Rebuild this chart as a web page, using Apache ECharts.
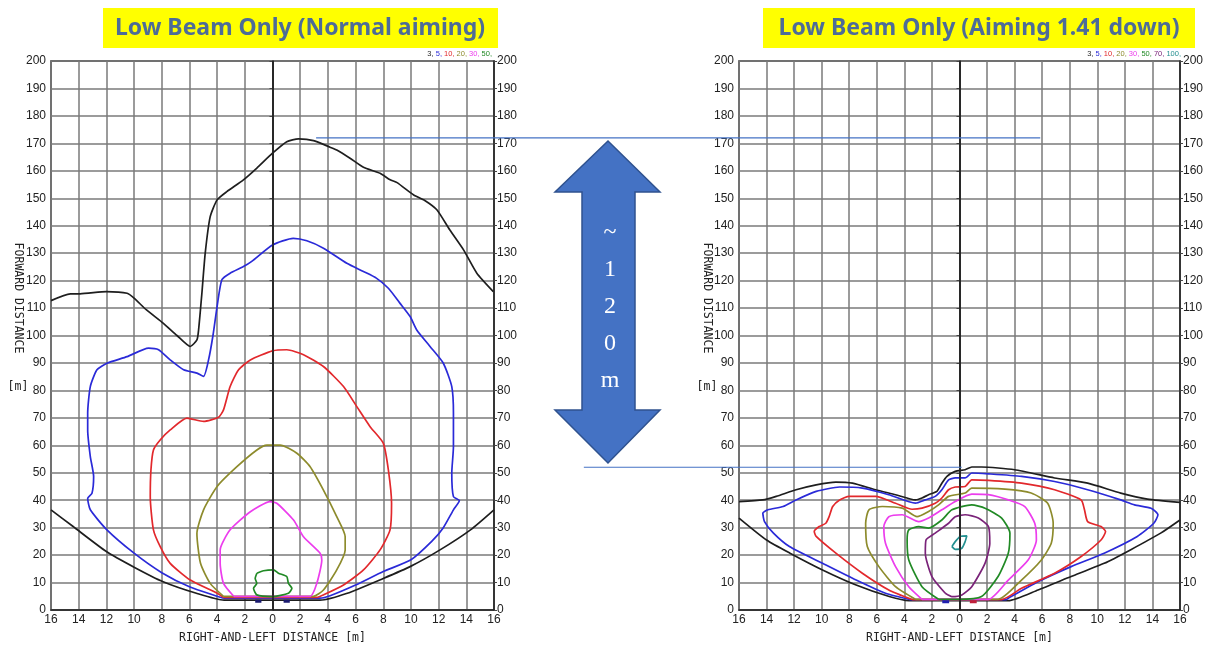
<!DOCTYPE html>
<html><head><meta charset="utf-8">
<script src="https://cdn.jsdelivr.net/npm/echarts@6/dist/echarts.min.js"></script>
<style>html,body{margin:0;padding:0;background:#fff}#c{width:1206px;height:649px}</style>
</head><body><div id="c"></div>
<script>
// ---- Axis ticks ----
const xMin = -16, xMax = 16, xStep = 2;
const yMin = 0, yMax = 200, yStep = 10;

// ---- Titles / labels ----
const titleLeft = 'Low Beam Only (Normal aiming)';
const titleRight = 'Low Beam Only (Aiming 1.41 down)';
const legendLeft = ['3', '5', '10', '20', '30', '50'];
const legendRight = ['3', '5', '10', '20', '30', '50', '70', '100'];
const xName = 'RIGHT-AND-LEFT DISTANCE [m]';
const yName = 'FORWARD DISTANCE';
const arrowLabel = '~\n1\n2\n0\nm';

// ---- Normal aiming contours (x [m], forward distance [m]) ----
const n3Upper = [[-16,112.7],[-14.6,115.2],[-13.9,115.2],[-12,116],[-10.5,115.4],[-10,113.6],[-9.1,109.3],[-7.9,104.5],[-6.9,100],[-5.94,96],[-5.46,98.4],[-5.34,102],[-5.1,115.4],[-4.86,130],[-4.5,143.3],[-4,149.4],[-3.3,152.4],[-2.1,156.7],[-1.13,161],[0,166.4],[1.03,170.6],[1.88,171.6],[2.96,171],[4.16,168.6],[4.64,167.6],[5.6,164.6],[6.57,161.3],[7.77,159.1],[8.5,156.7],[9,155.7],[10.2,151.2],[11,149.2],[11.87,145.8],[12.8,138.5],[13.8,131.2],[14.76,122.7],[15.95,116]];
const n3Lower = [[-16,36.5],[-14.4,30.4],[-12,21.3],[-10,15.6],[-7.9,10.3],[-5.5,6.1],[-3.5,3.6],[3.44,3.6],[5.4,6.1],[8,11.5],[9.94,15.8],[12.1,21.9],[14.3,29.2],[16,36.5]];
const n5 = [[-3.54,4.3],[-6,8.5],[-8,13.6],[-10,20.7],[-11.96,29.2],[-13.16,36.5],[-13.35,40.7],[-13.04,42.5],[-12.92,48.6],[-13.16,55.9],[-13.35,65.6],[-13.35,71.7],[-13.16,81.4],[-12.68,87.5],[-11.96,89.9],[-10.5,92.3],[-8.95,95.4],[-8.23,94.8],[-7.39,91.1],[-6.42,87.5],[-5.46,86.3],[-4.98,85.1],[-4.62,91.1],[-4.3,100],[-4.0,110.6],[-3.66,120.3],[-3.06,122.7],[-2.1,125.1],[-1.5,127],[0,133],[1.5,135.4],[2.48,134.5],[3.68,131.8],[5.37,126.3],[6.57,123.3],[7.5,120.9],[8.37,117.2],[9.2,111.8],[9.94,106.9],[10.42,102],[11.38,96],[12.34,89.9],[12.95,81.4],[13.07,71.7],[13.07,59.5],[12.95,49.8],[13.07,41.3],[13.5,39.9],[13.07,36.5],[12.34,30],[11.5,25],[10,18.3],[8,14],[6,9.1],[4.16,5.2],[3.44,4.3],[-3.54,4.3]];
const n10 = [[-3.54,4.6],[-4,6.1],[-5.94,10.9],[-7.39,17],[-8.1,23],[-8.6,29.2],[-8.83,41.3],[-8.78,51],[-8.6,58.3],[-8.1,62],[-7.39,65.6],[-6.18,69.9],[-4.98,68.7],[-3.9,70.2],[-3.54,72.9],[-3.06,81.4],[-2.45,87.5],[-1.6,91.1],[0,94.4],[1.03,94.8],[2.24,93],[3.68,88.7],[5.13,81.4],[6.09,74.1],[7.05,66.8],[8,60.8],[8.37,51],[8.6,38.9],[8.49,29.2],[7.77,21.9],[6.57,14.6],[5.13,9.1],[3.68,5.5],[3.2,4.6],[-3.54,4.6]];
const n20 = [[-3.54,5],[-4.5,9.7],[-5.2,17],[-5.46,27.9],[-4.98,36.5],[-4,45],[-2.57,52.2],[-1.13,58.3],[-0.41,60.1],[0.55,60.1],[1.76,57.1],[2.72,52.2],[3.68,43.7],[4.64,34],[5.25,26.7],[5.25,21.9],[4.64,14.6],[3.68,7.3],[2.96,5],[-3.54,5]];
const n30 = [[-2.8,5],[-3.54,9.7],[-3.78,17],[-3.78,21.9],[-3.06,29.2],[-1.6,35.8],[-0.17,39.5],[0.31,38.9],[1.52,32.8],[2.24,26.7],[3.44,20.7],[3.56,18.2],[3.2,9.7],[2.72,5],[-2.8,5]];
const n50 = [[-1.13,13.4],[-0.65,14.3],[0.07,14.6],[0.43,13.4],[1.03,12.2],[1.15,9.7],[1.4,7.9],[1.15,6.1],[0,4.9],[-1.13,5.5],[-1.37,7.9],[-1.13,9.7],[-1.25,11.5],[-1.13,13.4]];
const nBlobs = [[-1.25,3.2],[-0.8,3.2],null,[0.8,3.2],[1.25,3.2]];

// ---- Aiming 1.41 down contours ----
const d3Upper = [[-16,39.5],[-14.27,40.1],[-13.3,41.4],[-11.86,43.8],[-10.4,45.6],[-8.97,46.6],[-7.77,46.2],[-6.09,43.8],[-4.64,42],[-3.2,40.1],[-2.72,40.8],[-2.24,42],[-1.64,43.2],[-1.28,46.2],[-0.91,48.7],[-0.31,50.5],[0.41,51.1],[0.89,52.1],[1.6,52.1],[4,51.1],[6.9,48.1],[9.3,46.2],[11.7,42.6],[13.64,40.4],[16,39.2]];
const d3Lower = [[-16,33.5],[-14,25.5],[-12.3,20.7],[-9.94,14.6],[-7.5,9.1],[-5.1,4.9],[-3.68,3.4],[3.54,3.4],[5.7,7.3],[8.1,12.2],[10.5,17],[12.4,21.9],[14.6,28],[16,32.8]];
const d5 = [[-3.56,3.8],[-5.37,6.1],[-7.5,10.9],[-9.94,17],[-12.34,23.1],[-13.5,28],[-14.15,32.2],[-14.27,35.3],[-13.9,36.5],[-12.8,37.7],[-11.86,40.1],[-10.4,43.2],[-8.7,44.8],[-7.05,44.4],[-5.13,42],[-3.2,38.9],[-2.48,40.1],[-1.76,41.4],[-1.28,43.8],[-0.79,47.4],[-0.31,48.1],[0.41,48.1],[0.89,49.9],[2.1,49.6],[4.5,48.7],[6.9,46.8],[9.3,43.8],[11.7,40.1],[12.7,38.3],[13.9,37.1],[14.4,34.7],[14.1,31.6],[12.9,26.8],[10.5,20.7],[8.1,15.8],[5.7,10.3],[3.54,4.3],[3.4,3.8],[-3.56,3.8]];
const d10 = [[-3.44,3.8],[-5.13,7.3],[-7.05,13.4],[-8.97,20.7],[-10.4,26.8],[-10.54,28.6],[-10.18,30.4],[-9.7,31.6],[-9.46,34],[-9.2,37.7],[-8.7,40.1],[-8,41.4],[-6.09,41.4],[-4.64,38.9],[-3.44,36.7],[-2.72,37.1],[-1.76,38.9],[-1.28,40.8],[-0.79,43.8],[-0.31,44.8],[0.41,45],[0.89,47.4],[2.1,47.2],[4.5,46.2],[6.9,43.8],[8.83,40.1],[9.07,36.5],[9.3,32.2],[10.27,30.4],[10.6,28.6],[10.27,25.5],[8.83,19.5],[6.9,13.4],[4.5,7.9],[3.06,3.8],[-3.44,3.8]];
const d20 = [[-3.2,3.9],[-4.64,8.5],[-5.85,15.8],[-6.69,23.1],[-6.81,31.6],[-6.57,36.5],[-5.6,37.7],[-4.16,37.1],[-3.08,34],[-2.24,35.9],[-1.52,38.3],[-0.79,41.4],[0.41,42.6],[0.89,44.4],[3.3,44],[5.2,42.6],[6.4,38.9],[6.8,31.6],[6.66,24.3],[5.94,18.2],[4.5,10.9],[2.8,3.9],[-3.2,3.9]];
const d30 = [[-2.72,3.9],[-3.68,8.5],[-4.64,15.8],[-5.37,24.3],[-5.49,30.4],[-5.13,34],[-4.16,34.7],[-2.96,32.2],[-2.24,33.5],[-1.28,36.5],[-0.31,39.5],[0.89,42.2],[2.1,42],[3.54,40.1],[4.74,37.7],[5.46,31.6],[5.58,25.5],[4.98,18.2],[3.54,10.9],[2.1,3.9],[-2.72,3.9]];
const d50 = [[-1.52,3.9],[-2.72,8.5],[-3.68,18.2],[-3.8,25.5],[-3.68,29.2],[-2.96,30.4],[-2.24,29.8],[-1.28,32.8],[-0.55,36.5],[0.89,38.3],[1.85,37.1],[3.06,33.5],[3.66,28],[3.54,20.7],[2.8,12.2],[1.6,4.9],[-0.07,3.9],[-1.52,3.9]];
const d70 = [[-1.03,6.1],[-2,12.2],[-2.48,20.7],[-2.43,25.5],[-1.76,28],[-0.79,31.6],[-0.31,34],[0.41,34.7],[1.37,33.5],[2.1,30.4],[2.2,24.3],[1.85,17],[0.89,8.5],[0.17,5.5],[-0.55,4.9],[-1.03,6.1]];
const d100 = [[-0.55,23.1],[-0.31,24.9],[0.05,26.8],[0.53,27],[0.41,24.9],[0.17,22.5],[-0.31,22.1],[-0.55,23.1]];
const dBlobsBlue = [[-1.25,3.0],[-0.75,3.0]];
const dBlobsRed = [[0.75,3.0],[1.25,3.0]];

// annotation levels (forward distance) for the comparison lines
const refTop = 172, refBottom = 52;

// ---- Styles ----
const C = {l3:'#1e1e1e', l5:'#2a2ad8', l10:'#e2282c', l20:'#8d8b2c', l30:'#ec3ded', l50:'#218a25', l70:'#7a2379', l100:'#239090'};
const legendColors = {'3':C.l3,'5':C.l5,'10':C.l10,'20':C.l20,'30':C.l30,'50':C.l50,'70':C.l70,'100':C.l100};
const labelFont = 'Liberation Sans';
const monoFont = 'DejaVu Sans Mono';

const chart = echarts.init(document.getElementById('c'), null, {renderer:'canvas'});

function xAx(gi){
  return {gridIndex:gi, type:'value', min:xMin, max:xMax, interval:xStep,
    name:xName, nameLocation:'middle', nameGap:22,
    nameTextStyle:{fontFamily:monoFont, fontSize:11.5, color:'#222'},
    axisLine:{show:true, onZero:false, lineStyle:{color:'#222', width:1.5}},
    axisTick:{show:false},
    axisLabel:{fontFamily:labelFont, fontSize:12, color:'#222', margin:4, formatter:v=>String(Math.abs(v))},
    splitLine:{show:true, lineStyle:{color:'#7a7a7a', width:1.5}}};
}
function yAx(gi, pos){
  return {gridIndex:gi, type:'value', min:yMin, max:yMax, interval:yStep, position:pos,
    axisLine:{show:true, lineStyle:{color:'#222', width:1.5}},
    axisTick:{show:true, length:3, lineStyle:{color:'#444'}},
    axisLabel:{fontFamily:labelFont, fontSize:12, color:'#222', margin:pos==='left'?5:3},
    splitLine:{show:pos==='left', lineStyle:{color:'#7a7a7a', width:1.5}}};
}
function ln(name, data, color, xi, yi, w){
  return {name, type:'line', xAxisIndex:xi, yAxisIndex:yi, data, showSymbol:false, symbol:'none',
    connectNulls:false, smooth:0.2, lineStyle:{color, width:w||1.7}, itemStyle:{color}, silent:true, animation:false, z:3};
}
function zeroLine(xi, yi){
  return {type:'line', xAxisIndex:xi, yAxisIndex:yi, data:[], silent:true, animation:false,
    markLine:{silent:true, symbol:'none', label:{show:false}, lineStyle:{color:'#222', width:1.6, type:'solid'}, data:[{xAxis:0}]}};
}

const series = [
  zeroLine(0,0),
  ln('3', n3Upper, C.l3, 0, 0),
  ln('3b', n3Lower, C.l3, 0, 0),
  ln('5', n5, C.l5, 0, 0),
  ln('10', n10, C.l10, 0, 0),
  ln('20', n20, C.l20, 0, 0),
  ln('30', n30, C.l30, 0, 0),
  ln('50', n50, C.l50, 0, 0),
  ln('blob', nBlobs, '#1a1a70', 0, 0, 3),
  zeroLine(1,2),
  ln('d3', d3Upper, C.l3, 1, 2),
  ln('d3b', d3Lower, C.l3, 1, 2),
  ln('d5', d5, C.l5, 1, 2),
  ln('d10', d10, C.l10, 1, 2),
  ln('d20', d20, C.l20, 1, 2),
  ln('d30', d30, C.l30, 1, 2),
  ln('d50', d50, C.l50, 1, 2),
  ln('d70', d70, C.l70, 1, 2),
  ln('d100', d100, C.l100, 1, 2),
  ln('dbb', dBlobsBlue, '#2020b0', 1, 2, 3),
  ln('dbr', dBlobsRed, '#c0203a', 1, 2, 3)
];

function legendRich(list){
  const rich = {};
  let s = '';
  list.forEach((k,i)=>{ rich['c'+i] = {fill:legendColors[k], fontSize:7.5, fontFamily:labelFont}; s += '{c'+i+'|'+k+', }'; });
  return {s: s.replace(/, \}$/, ',}'), rich};
}
const lgL = legendRich(legendLeft), lgR = legendRich(legendRight);

const titleStyle = {fontFamily:'Noto Sans', fontWeight:'bold', fontSize:23, fill:'#4d6c98', textAlign:'center', textVerticalAlign:'middle'};

chart.setOption({
  animation:false,
  backgroundColor:'#fff',
  grid:[
    {left:51, right:712, top:61, height:549, show:true, borderColor:'#222', borderWidth:1.5, backgroundColor:'transparent'},
    {left:739, right:23, top:61, height:549, show:true, borderColor:'#222', borderWidth:1.5, backgroundColor:'transparent'}
  ],
  xAxis:[xAx(0), xAx(1)],
  yAxis:[yAx(0,'left'), yAx(0,'right'), yAx(1,'left'), yAx(1,'right')],
  series,
  graphic:[
    {id:'tbL', type:'rect', shape:{x:103, y:8, width:395, height:40}, style:{fill:'#ffff00'}, z:10},
    {id:'ttL', type:'text', x:300, y:28, style:Object.assign({text:titleLeft}, titleStyle), z:11},
    {id:'tbR', type:'rect', shape:{x:763, y:8, width:432, height:40}, style:{fill:'#ffff00'}, z:10},
    {id:'ttR', type:'text', x:979, y:28, style:Object.assign({text:titleRight}, titleStyle), z:11},
    {id:'lgL', type:'text', x:492, y:54, style:{text:lgL.s, rich:lgL.rich, textAlign:'right', textVerticalAlign:'middle'}, z:11},
    {id:'lgR', type:'text', x:1181, y:54, style:{text:lgR.s, rich:lgR.rich, textAlign:'right', textVerticalAlign:'middle'}, z:11},
    {id:'ynL', type:'text', x:18, y:298, rotation:-Math.PI/2, style:{text:yName, fontFamily:monoFont, fontSize:11.5, fill:'#222', textAlign:'center', textVerticalAlign:'middle'}, z:11},
    {id:'yuL', type:'text', x:18, y:387, style:{text:'[m]', fontFamily:monoFont, fontSize:11.5, fill:'#222', textAlign:'center', textVerticalAlign:'middle'}, z:11},
    {id:'ynR', type:'text', x:707, y:298, rotation:-Math.PI/2, style:{text:yName, fontFamily:monoFont, fontSize:11.5, fill:'#222', textAlign:'center', textVerticalAlign:'middle'}, z:11},
    {id:'yuR', type:'text', x:707, y:387, style:{text:'[m]', fontFamily:monoFont, fontSize:11.5, fill:'#222', textAlign:'center', textVerticalAlign:'middle'}, z:11},
    {id:'arrow', type:'polygon', shape:{points:[[608,141],[555,192],[582,192],[582,410],[555,410],[608,463],[660,410],[635,410],[635,192],[660,192]]},
      style:{fill:'#4472c4', stroke:'#2f528f', lineWidth:1.5}, z:12},
    {id:'arrowTxt', type:'text', x:610, y:307, style:{text:arrowLabel, fontFamily:'Liberation Serif', fontSize:24, lineHeight:37, fill:'#fff', textAlign:'center', textVerticalAlign:'middle'}, z:13}
  ]
});

// comparison lines drawn at the reference forward distances, positioned via the axes
const pTopL = chart.convertToPixel({gridIndex:0}, [3.15, refTop]);
const pTopR = chart.convertToPixel({gridIndex:1}, [5.86, refTop]);
const pBotL = chart.convertToPixel({gridIndex:1}, [-27.26, refBottom]);
const pBotR = chart.convertToPixel({gridIndex:1}, [0.16, refBottom]);
chart.setOption({graphic:[
  {id:'refTopLine', type:'line', shape:{x1:pTopL[0], y1:pTopL[1], x2:pTopR[0], y2:pTopR[1]}, style:{stroke:'#4472c4', lineWidth:1.2}, z:14},
  {id:'refBotLine', type:'line', shape:{x1:pBotL[0], y1:pBotL[1], x2:pBotR[0], y2:pBotR[1]}, style:{stroke:'#4472c4', lineWidth:1.2}, z:14}
]});
</script>
</body></html>
